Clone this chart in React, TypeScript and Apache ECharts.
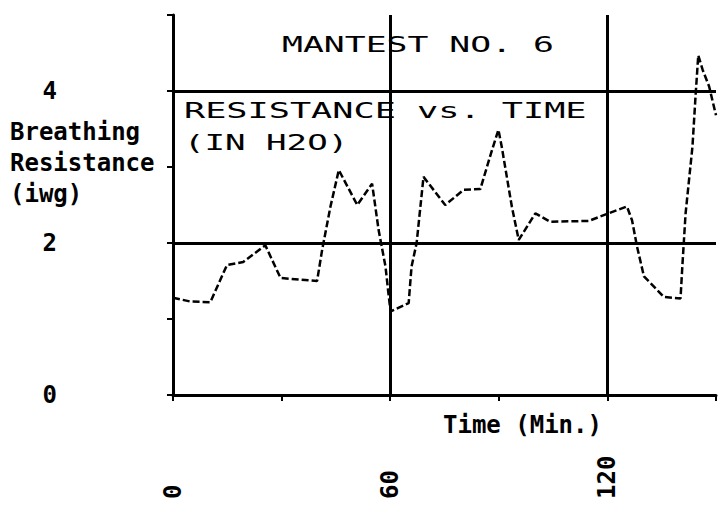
import React, { useEffect, useRef } from "react";
import * as echarts from "echarts";

const times = [0, 4.8, 10.3, 14.9, 19.4, 25.5, 29.7, 39.8, 41.2, 43.5, 45.8, 50.9, 55.0, 56.8, 58.7, 59.5, 60.1, 65.1, 65.9, 67.3, 69.2, 75.2, 80.3, 84.9, 88.1, 89.9, 90.8, 93.6, 95.5, 100.1, 104.2, 114.8, 120.3, 125.4, 126.8, 128.2, 130.1, 133.8, 135.6, 140.2, 140.7, 141.6, 143.5, 144.4, 145.1, 146.3, 148.1, 150];
const resistance = [1.28, 1.23, 1.22, 1.71, 1.75, 1.97, 1.54, 1.5, 1.91, 2.48, 2.96, 2.5, 2.78, 2.17, 1.69, 1.34, 1.1, 1.21, 1.69, 2.0, 2.87, 2.5, 2.7, 2.71, 3.22, 3.49, 3.27, 2.48, 2.04, 2.39, 2.28, 2.29, 2.39, 2.48, 2.3, 1.95, 1.56, 1.38, 1.29, 1.27, 1.69, 2.39, 3.27, 3.97, 4.47, 4.28, 4.06, 3.68];
const xLabelValues = [0, 60, 120];
const yLabelValues = [0, 2, 4];
const hGridValues = [2, 4];
const vGridValues = [60, 120];
const titleLines = ["MANTEST NO. 6", "RESISTANCE vs. TIME", "(IN H2O)"];
const yAxisName = "Breathing\nResistance\n(iwg)";
const xAxisName = "Time (Min.)";

const mono = '"DejaVu Sans Mono", "Liberation Mono", monospace';

export default function App() {
  const ref = useRef<HTMLDivElement>(null);
  useEffect(() => {
    if (!ref.current) return;
    const chart = echarts.init(ref.current, null, { renderer: "svg" });
    const data = times.map((t, i) => [t, resistance[i]]);
    chart.setOption({
      animation: false,
      backgroundColor: "#ffffff",
      grid: { left: 173, right: 2, top: 15, bottom: 114, containLabel: false, outerBoundsMode: "none" },
      xAxis: {
        type: "value",
        min: 0,
        max: 150,
        interval: 30,
        axisLine: { show: true, lineStyle: { color: "#000", width: 3 } },
        axisTick: { show: true, length: 6, lineStyle: { color: "#000", width: 2 } },
        splitLine: { show: false },
        axisLabel: {
          rotate: 90,
          align: "left",
          margin: 104,
          color: "#000",
          fontFamily: mono,
          fontWeight: "bold",
          fontSize: 24,
          formatter: (v: number) => (xLabelValues.includes(v) ? String(v) : ""),
        },
      },
      yAxis: {
        type: "value",
        min: 0,
        max: 5,
        interval: 1,
        axisLine: { show: true, lineStyle: { color: "#000", width: 3 } },
        axisTick: { show: true, length: 6, lineStyle: { color: "#000", width: 2 } },
        splitLine: { show: false },
        axisLabel: {
          margin: 116,
          color: "#000",
          fontFamily: mono,
          fontWeight: "bold",
          fontSize: 24,
          formatter: (v: number) => (yLabelValues.includes(v) ? String(v) : ""),
        },
      },
      graphic: [
        {
          type: "text",
          x: 10,
          y: 163,
          style: {
            text: yAxisName,
            font: `bold 24px ${mono}`,
            fill: "#000",
            textAlign: "left",
            textVerticalAlign: "middle",
            lineHeight: 31,
          },
        },
        {
          type: "text",
          x: 443,
          y: 425,
          style: {
            text: xAxisName,
            font: `bold 24px ${mono}`,
            fill: "#000",
            textAlign: "left",
            textVerticalAlign: "middle",
          },
        },
        {
          type: "text",
          x: 282,
          y: 44,
          scaleX: 1.58,
          style: { text: titleLines[0], font: `22px ${mono}`, fill: "#000", textAlign: "left", textVerticalAlign: "middle" },
        },
        {
          type: "text",
          x: 184,
          y: 111,
          scaleX: 1.6,
          style: { text: titleLines[1], font: `22px ${mono}`, fill: "#000", textAlign: "left", textVerticalAlign: "middle" },
        },
        {
          type: "text",
          x: 184,
          y: 142,
          scaleX: 1.55,
          style: { text: titleLines[2], font: `22px ${mono}`, fill: "#000", textAlign: "left", textVerticalAlign: "middle" },
        },
      ],
      series: [
        {
          type: "line",
          data,
          showSymbol: false,
          symbol: "none",
          lineStyle: { color: "#000", width: 2.5, type: [7, 3] },
          markLine: {
            silent: true,
            symbol: "none",
            label: { show: false },
            lineStyle: { color: "#000", width: 3, type: "solid" },
            data: [
              ...hGridValues.map((v) => ({ yAxis: v })),
              ...vGridValues.map((v) => ({ xAxis: v })),
            ],
          },
        },
      ],
    });
    return () => chart.dispose();
  }, []);
  return (
    <div
      ref={ref}
      style={{ position: "fixed", left: 0, top: 0, width: 718, height: 509, background: "#fff" }}
    />
  );
}
